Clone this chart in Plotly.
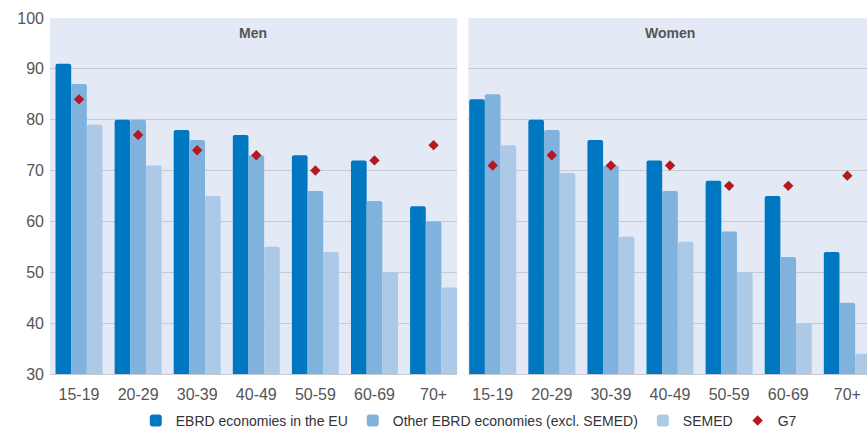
import plotly.graph_objects as go

# Age groups shown on both panels
age_groups = ["15-19", "20-29", "30-39", "40-49", "50-59", "60-69", "70+"]

# Men
men_ebrd_eu = [91, 80, 78, 77, 73, 72, 63]
men_other_ebrd = [87, 80, 76, 73, 66, 64, 60]
men_semed = [79, 71, 65, 55, 54, 50, 47]
men_g7 = [84, 77, 74, 73, 70, 72, 75]

# Women
women_ebrd_eu = [84, 80, 76, 72, 68, 65, 54]
women_other_ebrd = [85, 78, 71, 66, 58, 53, 44]
women_semed = [75, 69.5, 57, 56, 50, 40, 34]
women_g7 = [71, 73, 71, 71, 67, 67, 69]

series_names = ["EBRD economies in the EU", "Other EBRD economies (excl. SEMED)", "SEMED", "G7"]
bar_colors = ["#0077c1", "#80b2de", "#adc9e8"]
g7_color = "#b3191f"
panel_bg = "#e3e9f5"
grid_color = "#c6cad2"
text_grey = "#555555"
tick_font = dict(family="Liberation Sans, Arial, sans-serif", size=16, color=text_grey)

fig = go.Figure()

panels = [
    ("x", "y", [men_ebrd_eu, men_other_ebrd, men_semed], men_g7, True),
    ("x2", "y2", [women_ebrd_eu, women_other_ebrd, women_semed], women_g7, False),
]

for xa, ya, bar_series, g7_vals, show in panels:
    for name, vals, color in zip(series_names[:3], bar_series, bar_colors):
        fig.add_trace(go.Bar(
            x=age_groups, y=vals, name=name, xaxis=xa, yaxis=ya,
            marker=dict(color=color, line=dict(width=0), cornerradius=2),
            showlegend=show, legendgroup=name,
        ))
    fig.add_trace(go.Scatter(
        x=age_groups, y=g7_vals, name=series_names[3], xaxis=xa, yaxis=ya,
        mode="markers",
        marker=dict(symbol="diamond", size=8, color=g7_color),
        showlegend=show, legendgroup=series_names[3],
    ))

common_x = dict(
    type="category", showgrid=False, zeroline=False,
    showline=True, linecolor=grid_color, linewidth=1,
    ticks="", tickfont=tick_font, ticklabelstandoff=6, fixedrange=True,
)
common_y = dict(
    range=[30, 100], dtick=10, showgrid=True, gridcolor=grid_color, gridwidth=1,
    zeroline=False, showline=False, fixedrange=True,
)

panel_title_font = dict(family="Liberation Sans, Arial, sans-serif", size=14, color=text_grey)

fig.update_layout(
    width=867, height=429,
    margin=dict(l=50, r=0, t=18, b=55, autoexpand=False),
    paper_bgcolor="white", plot_bgcolor=panel_bg,
    barmode="group", bargap=0.205, bargroupgap=0,
    xaxis=dict(domain=[0, 0.4985], range=[-0.491, 6.401], **common_x),
    xaxis2=dict(domain=[0.512, 1], range=[-0.413, 6.333], **common_x),
    yaxis=dict(anchor="x", tickfont=tick_font, ticklabelstandoff=5, **common_y),
    yaxis2=dict(anchor="x2", matches="y", showticklabels=False, **common_y),
    legend=dict(
        orientation="h", x=0.105, xanchor="left", y=-0.087, yanchor="top",
        font=dict(family="Liberation Sans, Arial, sans-serif", size=14, color="#333333"),
        bgcolor="rgba(0,0,0,0)", itemwidth=30, traceorder="normal",
    ),
    annotations=[
        dict(text="<b>Men</b>", xref="paper", yref="paper", x=0.2485, y=0.958,
             xanchor="center", yanchor="middle", showarrow=False, font=panel_title_font),
        dict(text="<b>Women</b>", xref="paper", yref="paper", x=0.759, y=0.958,
             xanchor="center", yanchor="middle", showarrow=False, font=panel_title_font),
    ],
)

fig.write_html("out.html")
